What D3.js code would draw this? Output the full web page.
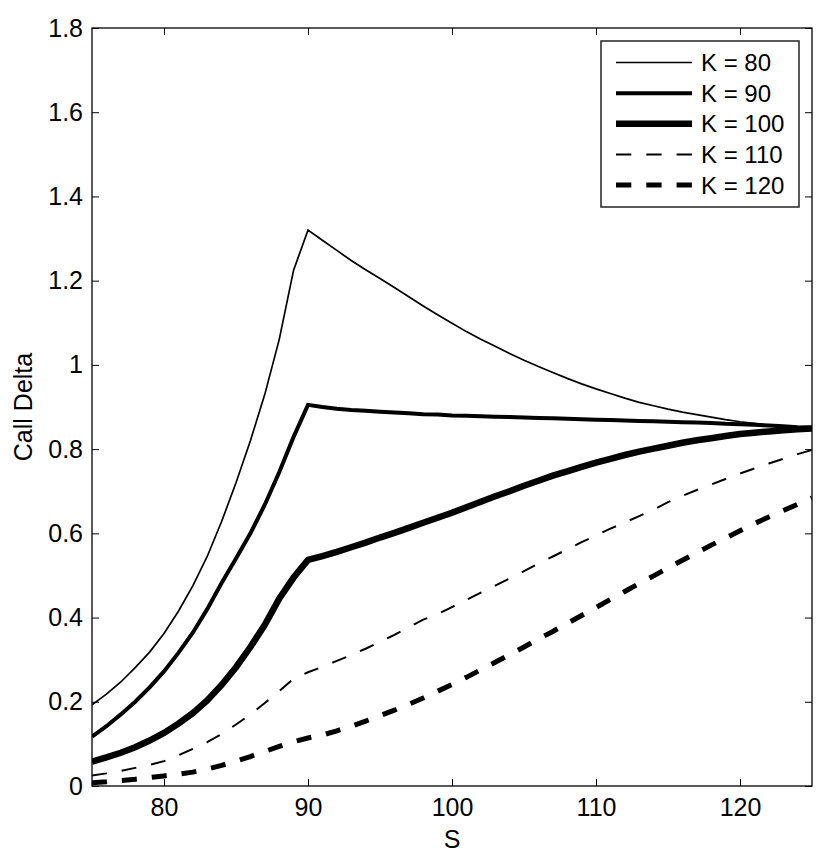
<!DOCTYPE html>
<html>
<head>
<meta charset="utf-8">
<script src="https://cdn.jsdelivr.net/npm/d3@7"></script>
<style>
  html, body { margin: 0; padding: 0; background: #fff; }
  text { font-family: "Liberation Sans", Arial, Helvetica, sans-serif; fill: #000; }
</style>
</head>
<body>
<svg id="chart" width="830" height="859"></svg>
<script>
// ---- data ----
const S = [75,76,77,78,79,80,81,82,83,84,85,86,87,88,89,90,91,92,93,94,95,96,97,98,99,100,
           101,102,103,104,105,106,107,108,109,110,111,112,113,114,115,116,117,118,119,120,
           121,122,123,124,125];

const deltaK80 = [0.193,0.218,0.247,0.281,0.318,0.362,0.415,0.475,0.545,0.628,0.720,0.820,0.930,1.060,1.225,1.320,
  1.296,1.272,1.248,1.226,1.205,1.184,1.162,1.140,1.119,1.099,1.079,1.061,1.044,1.027,1.011,0.996,0.982,0.968,
  0.955,0.943,0.932,0.921,0.911,0.903,0.895,0.888,0.882,0.876,0.870,0.865,0.861,0.857,0.854,0.852,0.851];

const deltaK90 = [0.117,0.142,0.170,0.200,0.234,0.272,0.316,0.364,0.420,0.482,0.540,0.600,0.668,0.745,0.829,0.905,
  0.900,0.896,0.893,0.891,0.889,0.887,0.885,0.883,0.882,0.880,0.879,0.878,0.877,0.876,0.875,0.874,0.873,0.872,
  0.871,0.870,0.869,0.868,0.867,0.866,0.865,0.864,0.863,0.862,0.860,0.859,0.858,0.856,0.854,0.852,0.851];

const deltaK100 = [0.058,0.068,0.079,0.092,0.108,0.126,0.148,0.173,0.203,0.240,0.282,0.330,0.383,0.445,0.495,0.537,
  0.546,0.556,0.567,0.578,0.590,0.601,0.613,0.625,0.637,0.649,0.662,0.675,0.688,0.700,0.713,0.725,0.737,0.747,
  0.758,0.768,0.777,0.786,0.794,0.801,0.808,0.815,0.821,0.826,0.831,0.836,0.839,0.842,0.845,0.847,0.849];

const deltaK110 = [0.025,0.030,0.036,0.043,0.050,0.059,0.073,0.088,0.104,0.123,0.146,0.170,0.197,0.225,0.255,0.270,
  0.283,0.297,0.311,0.326,0.342,0.359,0.377,0.395,0.408,0.425,0.442,0.459,0.476,0.493,0.510,0.528,0.545,0.562,
  0.579,0.595,0.611,0.626,0.641,0.656,0.674,0.689,0.703,0.716,0.729,0.742,0.754,0.766,0.777,0.788,0.798];

const deltaK120 = [0.008,0.010,0.013,0.016,0.020,0.024,0.028,0.033,0.040,0.049,0.059,0.070,0.082,0.094,0.105,0.114,
  0.121,0.131,0.142,0.154,0.167,0.180,0.194,0.209,0.225,0.241,0.258,0.276,0.294,0.312,0.330,0.349,0.367,0.386,
  0.405,0.424,0.443,0.462,0.481,0.499,0.518,0.536,0.554,0.572,0.589,0.606,0.623,0.639,0.654,0.669,0.684];

const seriesLabels = ["K = 80", "K = 90", "K = 100", "K = 110", "K = 120"];
const xTicks = [80, 90, 100, 110, 120];
const yTicks = [0, 0.2, 0.4, 0.6, 0.8, 1, 1.2, 1.4, 1.6, 1.8];
const xLabel = "S";
const yLabel = "Call Delta";

// ---- styles (kept separate from data) ----
const styles = [
  { w: 1.7, dash: null },
  { w: 4,   dash: null },
  { w: 6.5, dash: null },
  { w: 2,   dash: "15,15" },
  { w: 5,   dash: "15,15" }
];

const seriesValues = [deltaK80, deltaK90, deltaK100, deltaK110, deltaK120];

// ---- layout ----
const L = 92, R = 812, T = 28, B = 786;
const svg = d3.select("#chart");

const x = d3.scaleLinear().domain([75, 125]).range([L, R]);
const y = d3.scaleLinear().domain([0, 1.8]).range([B, T]);

svg.append("defs").append("clipPath").attr("id", "clip")
  .append("rect").attr("x", L).attr("y", T).attr("width", R - L).attr("height", B - T);

// lines
const line = d3.line().x((d, i) => x(S[i])).y(d => y(d));
const lineG = svg.append("g").attr("clip-path", "url(#clip)");
seriesValues.forEach((vals, k) => {
  lineG.append("path")
    .attr("d", line(vals))
    .attr("fill", "none")
    .attr("stroke", "#000")
    .attr("stroke-width", styles[k].w)
    .attr("stroke-linejoin", "miter")
    .attr("stroke-dasharray", styles[k].dash);
});

// axes with inward ticks on all four sides
const tickLen = 7;
const fontSize = 25;
const axB = d3.axisBottom(x).tickValues(xTicks).tickSize(-tickLen).tickPadding(12).tickFormat(d3.format("d"));
const axT = d3.axisTop(x).tickValues(xTicks).tickSize(-tickLen).tickFormat("");
const axLft = d3.axisLeft(y).tickValues(yTicks).tickSize(-tickLen).tickPadding(9).tickFormat(d => d3.format("")(+d.toFixed(1)));
const axRgt = d3.axisRight(y).tickValues(yTicks).tickSize(-tickLen).tickFormat("");

function styleAxis(g) {
  g.select(".domain").remove();
  g.selectAll(".tick line").attr("stroke", "#000").attr("stroke-width", 1);
  g.selectAll("text").attr("font-size", fontSize).attr("fill", "#000")
    .attr("font-family", "Liberation Sans, Arial, sans-serif");
}
svg.append("g").attr("transform", `translate(0,${B})`).call(axB).call(styleAxis)
  .selectAll("text").attr("dy", "0.71em");
svg.append("g").attr("transform", `translate(0,${T})`).call(axT).call(styleAxis);
svg.append("g").attr("transform", `translate(${L},0)`).call(axLft).call(styleAxis);
svg.append("g").attr("transform", `translate(${R},0)`).call(axRgt).call(styleAxis);

// frame
svg.append("rect").attr("x", L).attr("y", T).attr("width", R - L).attr("height", B - T)
  .attr("fill", "none").attr("stroke", "#000").attr("stroke-width", 1.3);

// axis labels
svg.append("text").attr("x", (L + R) / 2).attr("y", 848).attr("text-anchor", "middle")
  .attr("font-size", fontSize).text(xLabel);
svg.append("text").attr("transform", `translate(32,${(T + B) / 2}) rotate(-90)`)
  .attr("text-anchor", "middle").attr("font-size", fontSize).text(yLabel);

// legend
const lgX = 601, lgY = 41, lgW = 198, lgH = 166;
const lg = svg.append("g");
lg.append("rect").attr("x", lgX).attr("y", lgY).attr("width", lgW).attr("height", lgH)
  .attr("fill", "#fff").attr("stroke", "#000").attr("stroke-width", 1.3);
const rowY = d3.scaleLinear().domain([0, seriesLabels.length - 1]).range([lgY + 21.5, lgY + 144]);
seriesLabels.forEach((lab, k) => {
  const yy = rowY(k);
  lg.append("line").attr("x1", 616).attr("x2", 692).attr("y1", yy).attr("y2", yy)
    .attr("stroke", "#000").attr("stroke-width", styles[k].w)
    .attr("stroke-dasharray", styles[k].dash ? "15.3,15" : null);
  lg.append("text").attr("x", 701).attr("y", yy).attr("dy", "0.36em")
    .attr("font-size", 24).text(lab);
});
</script>
</body>
</html>
